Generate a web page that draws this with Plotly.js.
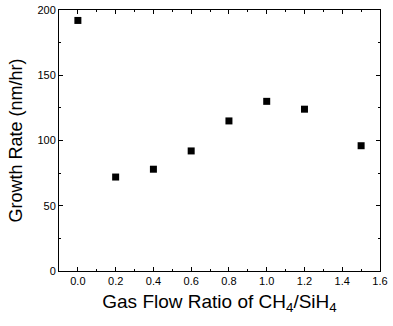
<!DOCTYPE html>
<html><head><meta charset="utf-8">
<script src="https://cdn.plot.ly/plotly-3.0.1.min.js"></script>
<style>html,body{margin:0;padding:0;background:#fff}#c{width:393px;height:326px}</style>
</head><body><div id="c"></div>
<script>
const ratio = [0.0, 0.2, 0.4, 0.6, 0.8, 1.0, 1.2, 1.5];
const growthRate = [192, 72, 78, 92, 115, 130, 124, 96];
const xTicks = [0.0, 0.2, 0.4, 0.6, 0.8, 1.0, 1.2, 1.4, 1.6];
const xTickLabels = ['0.0','0.2','0.4','0.6','0.8','1.0','1.2','1.4','1.6'];
const yTicks = [0, 50, 100, 150, 200];

const font = 'Liberation Sans, Arial, sans-serif';
Plotly.newPlot('c', [{
  x: ratio, y: growthRate, type: 'scatter', mode: 'markers',
  marker: {symbol: 'square', size: 7, color: '#000'}
}], {
  width: 393, height: 326,
  margin: {l: 59, r: 13, t: 10, b: 55},
  paper_bgcolor: '#fff', plot_bgcolor: '#fff',
  showlegend: false,
  font: {family: font, color: '#000'},
  xaxis: {
    range: [-0.1, 1.6], tickvals: xTicks, ticktext: xTickLabels,
    ticks: 'inside', ticklen: 4, tickcolor: '#000', showgrid: false, zeroline: false,
    showline: true, linecolor: '#000', linewidth: 1, mirror: 'ticks',
    minor: {dtick: 0.1, ticks: 'inside', ticklen: 2, tickcolor: '#000'},
    tickfont: {size: 11, family: font},
    title: {text: 'Gas Flow Ratio of CH<sub>4</sub>/SiH<sub>4</sub>', font: {size: 19, family: font}, standoff: 8}
  },
  yaxis: {
    range: [0, 200], tickvals: yTicks,
    ticks: 'inside', ticklen: 4, tickcolor: '#000', showgrid: false, zeroline: false,
    showline: true, linecolor: '#000', linewidth: 1, mirror: 'ticks',
    minor: {dtick: 25, ticks: 'inside', ticklen: 2, tickcolor: '#000'},
    tickfont: {size: 11, family: font},
    title: {text: 'Growth Rate (nm/hr)', font: {size: 18, family: font}, standoff: 10}
  }
}, {staticPlot: true, displayModeBar: false});
</script></body></html>
